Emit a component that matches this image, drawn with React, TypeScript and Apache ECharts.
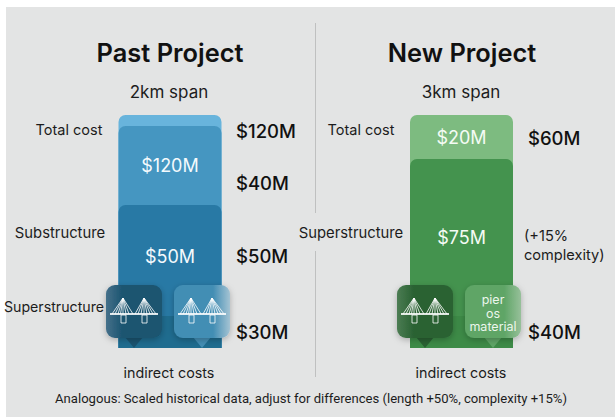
import React, { useEffect, useRef } from "react";
import * as echarts from "echarts";

const categories = ["Past Project", "New Project"];
const spans = ["2km span", "3km span"];
// Drawn segment heights (bottom to top), with their printed labels
const pastSegments = [32, 111, 79, 11];
const newSegments = [32, 157, 44];
const pastColors = ["#1f6c8f", "#2879a5", "#4596c1", "#68b4dc"];
const newColors = ["#3d8b47", "#44934e", "#7dbb80"];
const pastLabels = ["", "$50M", "$120M", ""];
const newLabels = ["", "$75M", "$20M"];
const pastLabelOffsets = [0, 42, 30, 0];
const newLabelOffsets = [0, 69, 13];

const leftTexts: [string, number, number][] = [
  ["Total cost", 69, 129],
  ["Substructure", 60, 233],
  ["Superstructure", 54, 306],
];
const rightTexts: [string, number, number][] = [
  ["Total cost", 361, 129],
  ["Superstructure", 351, 233],
];
const valueTexts: [string, number, number][] = [
  ["$120M", 236, 131],
  ["$40M", 236, 183],
  ["$50M", 236, 256],
  ["$30M", 236, 332],
  ["$60M", 528, 138],
  ["$40M", 528, 332],
];
const cardText = "pier\nos\nmaterial";
const note = "Analogous: Scaled historical data, adjust for differences (length +50%, complexity +15%)";

const bridge =
  "M4 29H52 M17 13V29 M38 13V29 " +
  "M17 13L6 29 M17 13L9 29 M17 13L12 29 M17 13L14.5 29 M17 13L20 29 M17 13L23 29 M17 13L27 29 " +
  "M38 13L29 29 M38 13L32 29 M38 13L35 29 M38 13L41 29 M38 13L44 29 M38 13L47 29 M38 13L50 29 " +
  "M15 30H20V38H15Z M36 30H41V38H36Z";
echarts.graphic.registerShape("bridgeIcon", echarts.graphic.extendPath(bridge, {}));

const grad = (a: string, b: string, stop = 0.3) => ({
  type: "linear", x: 0, y: 0, x2: 1, y2: 0,
  colorStops: [{ offset: 0, color: a }, { offset: stop, color: b }, { offset: 1, color: b }],
});
const gradR = (a: string, b: string, stop = 0.7) => ({
  type: "linear", x: 0, y: 0, x2: 1, y2: 0,
  colorStops: [{ offset: 0, color: a }, { offset: stop, color: a }, { offset: 1, color: b }],
});

function card(x: number, fill: any, tipColor: string, icon: boolean) {
  const w = 56, h = 53;
  const children: any[] = [
    { type: "polygon", z: 50, shape: { points: [[w / 2 - 9, h - 1], [w / 2 + 9, h - 1], [w / 2, h + 10]] }, style: { fill: tipColor } },
    {
      type: "rect", z: 51, shape: { x: 0, y: 0, width: w, height: h, r: 9 },
      style: { fill, shadowBlur: 6, shadowColor: "rgba(0,0,0,0.25)", shadowOffsetY: 2 },
    },
  ];
  if (icon) {
    children.push({ type: "bridgeIcon", z: 52, style: { fill: "none", stroke: "#ffffff", lineWidth: 0.8 } });
    children.push({ type: "line", z: 52, shape: { x1: 4, y1: 29, x2: 52, y2: 29 }, style: { stroke: "#ffffff", lineWidth: 1.6 } });
  }
  return { type: "group", x, y: 285, children };
}

const txt = (text: string, x: number, y: number, size: number, extra: any = {}) => ({
  type: "text", x, y, z: 60,
  style: {
    text, fontSize: size, fontFamily: "Inter, 'Open Sans', sans-serif", fill: "#1c1c1c",
    textAlign: "center", textVerticalAlign: "middle", ...extra,
  },
});

function cumulative(values: number[], idx: number) {
  return values.slice(0, idx + 1).reduce((a, b) => a + b, 0);
}

function buildSeries() {
  const out: any[] = [];
  for (let i = 3; i >= 0; i--) {
    const hasNew = i < newSegments.length;
    out.push({
      type: "bar",
      barWidth: 103,
      barGap: "-100%",
      z: 10 + (3 - i),
      data: [
        {
          value: cumulative(pastSegments, i),
          itemStyle: { color: pastColors[i], borderRadius: i === 0 ? 0 : [7, 7, 0, 0] },
          label: {
            show: !!pastLabels[i], position: "insideTop", distance: pastLabelOffsets[i],
            formatter: pastLabels[i], color: "#f4fafd", fontSize: 18, fontFamily: "Inter, sans-serif",
          },
        },
        hasNew
          ? {
              value: cumulative(newSegments, i),
              itemStyle: { color: newColors[i], borderRadius: i === 0 ? 0 : [7, 7, 0, 0] },
              label: {
                show: !!newLabels[i], position: "insideTop", distance: newLabelOffsets[i],
                formatter: newLabels[i], color: "#f4fbf4", fontSize: 18, fontFamily: "Inter, sans-serif",
              },
            }
          : null,
      ],
    });
  }
  return out;
}

export default function App() {
  const ref = useRef<HTMLDivElement>(null);
  useEffect(() => {
    const chart = echarts.init(ref.current!, null, { renderer: "svg" });
    chart.setOption({
      animation: false,
      backgroundColor: "#ffffff",
      grid: { left: 24.25, top: 115, width: 583, height: 233 },
      xAxis: { type: "category", data: categories, axisLine: { show: false }, axisTick: { show: false }, axisLabel: { show: false } },
      yAxis: { type: "value", min: 0, max: 233, show: false },
      series: buildSeries(),
      graphic: [
        { type: "rect", z: -10, silent: true, shape: { x: 6, y: 7, width: 609, height: 410 }, style: { fill: "#e3e4e4" } },
        { type: "line", z: 1, shape: { x1: 315.5, y1: 23, x2: 315.5, y2: 213 }, style: { stroke: "#bfc0c0", lineWidth: 1 } },
        { type: "line", z: 1, shape: { x1: 315.5, y1: 251, x2: 315.5, y2: 377 }, style: { stroke: "#bfc0c0", lineWidth: 1 } },
        txt(categories[0], 170, 52, 25.4, { fontWeight: 600, fill: "#111111" }),
        txt(categories[1], 462, 52, 25.4, { fontWeight: 600, fill: "#111111" }),
        txt(spans[0], 169, 92, 17),
        txt(spans[1], 461, 92, 17),
        txt(leftTexts[0][0], leftTexts[0][1], leftTexts[0][2], 14.5),
        txt(leftTexts[1][0], leftTexts[1][1], leftTexts[1][2], 14.8),
        txt(leftTexts[2][0], leftTexts[2][1], leftTexts[2][2], 14.2),
        txt(rightTexts[0][0], rightTexts[0][1], rightTexts[0][2], 14.5),
        txt(rightTexts[1][0], rightTexts[1][1], rightTexts[1][2], 14.8),
        ...valueTexts.map(([t, x, y]) => txt(t, x, y, 18.5, { textAlign: "left", fontWeight: 500, fill: "#111111" })),
        txt("(+15%", 524, 236, 14.6, { textAlign: "left" }),
        txt("complexity)", 524, 255, 14.6, { textAlign: "left" }),
        txt("indirect costs", 169, 372, 14.3),
        txt("indirect costs", 461, 372, 14.3),
        txt(note, 311, 398, 13.1, { fontFamily: "Roboto, sans-serif" }),
        card(106, grad("#45708a", "#1a5470"), "#1a5470", true),
        card(174, gradR("#438eb4", "#a4c3d3"), "#438eb4", true),
        card(397, grad("#4c7c53", "#2a6233"), "#2a6233", true),
        card(465, gradR("#5ea566", "#97c09a"), "#5ea566", false),
        txt(cardText, 493, 313, 12.5, { fill: "#ecf6ec", lineHeight: 13.5 }),
      ],
    });
    return () => chart.dispose();
  }, []);
  return <div ref={ref} style={{ width: 615, height: 417, position: "fixed", left: 0, top: 0 }} />;
}
